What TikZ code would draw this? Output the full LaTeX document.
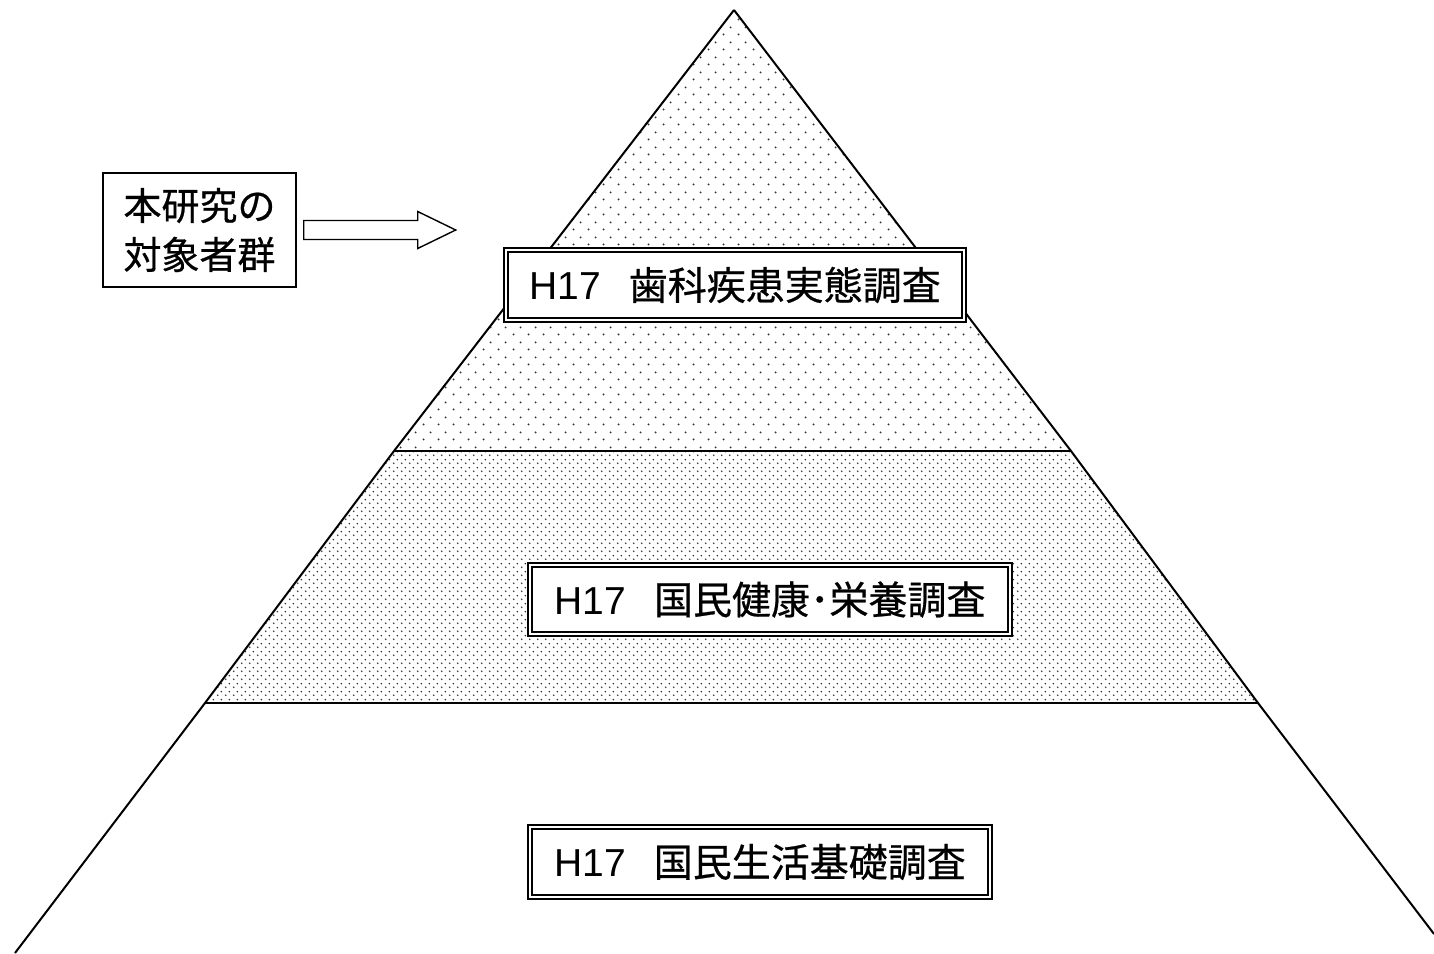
\documentclass[tikz,border=0pt]{standalone}
\usepackage{fontspec}
\setmainfont{Liberation Sans}
\newfontfamily\jp[FakeBold=0.6]{Noto Sans CJK JP}
\usetikzlibrary{patterns}

\pgfdeclarepatternformonly{sparsedots}{\pgfqpoint{0pt}{0pt}}{\pgfqpoint{7.5pt}{7.5pt}}{\pgfqpoint{7.5pt}{7.5pt}}{%
 \pgfpathcircle{\pgfqpoint{1.875pt}{1.875pt}}{0.55pt}%
 \pgfpathcircle{\pgfqpoint{5.625pt}{5.625pt}}{0.55pt}%
 \pgfusepath{fill}}
\pgfdeclarepatternformonly{densedots}{\pgfqpoint{0pt}{0pt}}{\pgfqpoint{4pt}{4pt}}{\pgfqpoint{4pt}{4pt}}{%
 \pgfpathcircle{\pgfqpoint{1pt}{1pt}}{0.5pt}%
 \pgfpathcircle{\pgfqpoint{3pt}{3pt}}{0.5pt}%
 \pgfusepath{fill}}

\tikzset{
 dbox/.style={draw, fill=white, double, line width=0.95pt, double distance=1.1pt,
   inner sep=0pt, font=\fontsize{19.5pt}{24pt}\selectfont},
 lbox/.style={draw, fill=white, line width=0.7pt, align=center, inner sep=0pt,
   minimum width=96.5pt, minimum height=57pt, font=\jp\fontsize{19pt}{24.5pt}\selectfont},
 pyr/.style={line width=1pt, line join=miter},
 blockarrow/.style={draw, fill=white, line width=0.7pt, line join=miter},
}

\begin{document}
\begin{tikzpicture}[x=0.5pt, y=-0.5pt]
\useasboundingbox (0,0) rectangle (1434,953);

% pyramid points
\coordinate (A) at (734,10);
\coordinate (L1) at (394,451);
\coordinate (R1) at (1071,451);
\coordinate (L2) at (205,703);
\coordinate (R2) at (1258,703);
\coordinate (L3) at (15,953);
\coordinate (R3) at (1434,934);

% fills
\fill[pattern=sparsedots, pattern color=black!80] (A) -- (L1) -- (R1) -- cycle;
\fill[pattern=densedots, pattern color=black!80] (L1) -- (R1) -- (R2) -- (L2) -- cycle;

% outlines
\draw[pyr] (A) -- (L1) -- (L2) -- (L3);
\draw[pyr] (A) -- (R1) -- (R2) -- (R3);
\draw[pyr] (L1) -- (R1);
\draw[pyr] (L2) -- (R2);

% labelled boxes
\node[dbox, minimum width=229pt, minimum height=35pt] (b1) at (735,285)
  {H17\hspace{14pt}{\jp 歯科疾患実態調査}};
\node[dbox, minimum width=240pt, minimum height=34.5pt] (b2) at (770,599.5)
  {H17\hspace{14pt}{\jp 国民健康･栄養調査}};
\node[dbox, minimum width=230pt, minimum height=35pt] (b3) at (760,862)
  {H17\hspace{14pt}{\jp 国民生活基礎調査}};

% left label
\node[lbox] (lbl) at (199.5,230) {本研究の\\対象者群};

% block arrow
\coordinate (arr) at ([xshift=3.5pt]lbl.east);
\draw[blockarrow] (arr) ++(0,-9.5) -- ++(114,0) -- ++(0,-9) -- ++(38,18.5)
  -- ++(-38,18.5) -- ++(0,-9) -- ++(-114,0) -- cycle;
\end{tikzpicture}
\end{document}
